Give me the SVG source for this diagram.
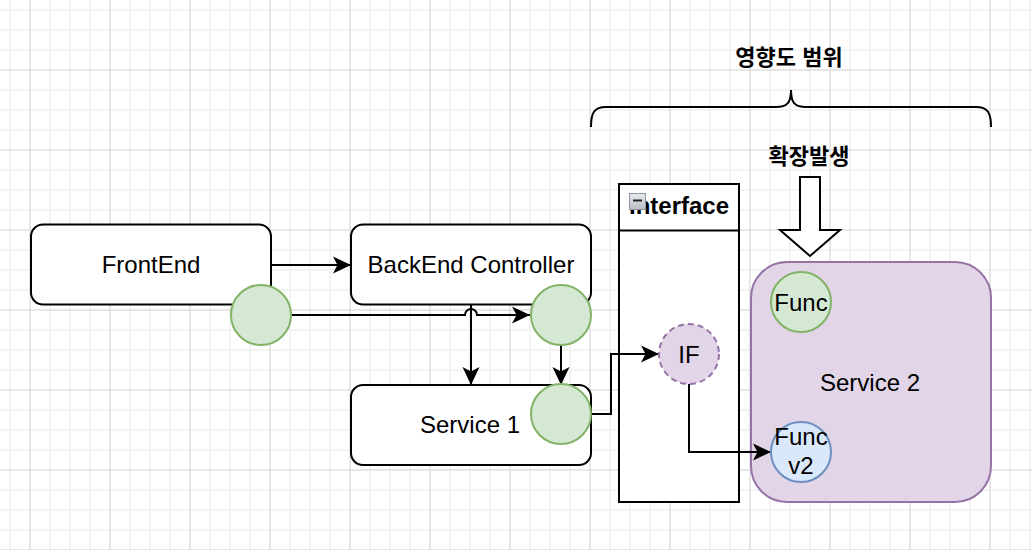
<svg xmlns="http://www.w3.org/2000/svg" width="1032" height="550" viewBox="0 0 1032 550">
  <defs>
    <pattern id="grid" x="0" y="0" width="80" height="80" patternUnits="userSpaceOnUse">
      <rect x="9" y="0" width="2" height="80" fill="#f3f3f3"/>
      <rect x="49" y="0" width="2" height="80" fill="#f3f3f3"/>
      <rect x="69" y="0" width="2" height="80" fill="#f3f3f3"/>
      <rect x="0" y="9" width="80" height="2" fill="#f3f3f3"/>
      <rect x="0" y="29" width="80" height="2" fill="#f3f3f3"/>
      <rect x="0" y="49" width="80" height="2" fill="#f3f3f3"/>
      <rect x="29.5" y="0" width="1" height="80" fill="#d0d0d0"/>
      <rect x="0" y="69.5" width="80" height="1" fill="#d0d0d0"/>
    </pattern>
    <marker id="arrow" markerUnits="userSpaceOnUse" markerWidth="20" markerHeight="20" viewBox="-19 -10 20 20" refX="0" refY="0" orient="auto">
      <path d="M0,0 L-18,-8.5 L-13.5,0 L-18,8.5 Z" fill="#000"/>
    </marker>
    <linearGradient id="iconGrad" x1="0" y1="0" x2="0" y2="1">
      <stop offset="0" stop-color="#e8eaee"/>
      <stop offset="1" stop-color="#b8bcc4"/>
    </linearGradient>
  </defs>
  <style>
    .box { fill: #ffffff; stroke: #000000; stroke-width: 2; }
    .green { fill: #d5e8d4; stroke: #82b366; stroke-width: 2; }
    .purple { fill: #e1d5e7; stroke: #9673a6; stroke-width: 2; }
    .blue { fill: #dae8fc; stroke: #6c8ebf; stroke-width: 2; }
    .lbl { font-family: "Liberation Sans", Arial, sans-serif; font-size: 24px; fill: #000; text-anchor: middle; }
    .bold { font-weight: bold; }
    .kr { font-family: "Liberation Sans", "Noto Sans CJK KR", sans-serif; font-size: 22px; font-weight: bold; fill: #000; text-anchor: middle; }
    .edge { fill: none; stroke: #000; stroke-width: 2; }
  </style>

  <rect x="0" y="0" width="1032" height="550" fill="#ffffff"/>
  <rect x="0" y="0" width="1032" height="550" fill="url(#grid)"/>

  <g id="impact-label">
    <text class="kr" x="789" y="65">영향도 범위</text>
  </g>
  <g id="brace">
    <path class="edge" d="M591,127 C591,113 594,107 606,107 H776 C787,107 791,103 791,90 C791,103 795,107 806,107 H976 C988,107 991,113 991,127"/>
  </g>
  <g id="expand-label">
    <text class="kr" x="809" y="164">확장발생</text>
  </g>
  <g id="block-arrow">
    <polygon points="800,177 820,177 820,230 840,230 810,256 780,230 800,230" fill="#ffffff" stroke="#000" stroke-width="2" stroke-linejoin="miter"/>
  </g>

  <g id="frontend">
    <rect class="box" x="31" y="224.5" width="240" height="80" rx="12"/>
    <text class="lbl" x="151" y="273">FrontEnd</text>
  </g>
  <g id="backend-controller">
    <rect class="box" x="351" y="224.5" width="240" height="80" rx="12"/>
    <text class="lbl" x="471" y="273">BackEnd Controller</text>
  </g>
  <g id="service1">
    <rect class="box" x="351" y="385" width="240" height="80" rx="12"/>
    <text class="lbl" x="470" y="433">Service 1</text>
  </g>

  <g id="interface">
    <rect x="619" y="184" width="120" height="318" fill="#ffffff" stroke="#000" stroke-width="2"/>
    <line x1="619" y1="230.5" x2="739" y2="230.5" stroke="#000" stroke-width="2"/>
    <text class="lbl bold" x="679" y="214">Interface</text>
    <rect x="629.5" y="193.5" width="16" height="16" fill="url(#iconGrad)" stroke="#8e949e" stroke-width="1"/>
    <line x1="633" y1="200.5" x2="642" y2="200.5" stroke="#222" stroke-width="2"/>
  </g>

  <g id="service2">
    <rect class="purple" x="751" y="262" width="240" height="240" rx="36"/>
    <text class="lbl" x="870" y="391">Service 2</text>
  </g>

  <g id="connectors">
    <path class="edge" d="M271,265 H351" marker-end="url(#arrow)"/>
    <path class="edge" d="M291,315 H465 A6,6 0 0 1 477,315 H530" marker-end="url(#arrow)"/>
    <path class="edge" d="M471,304.5 V385" marker-end="url(#arrow)"/>
    <path class="edge" d="M561,345 V385" marker-end="url(#arrow)"/>
    <path class="edge" d="M591,414 H611 V354 H659" marker-end="url(#arrow)"/>
    <path class="edge" d="M689,384 V452 H771" marker-end="url(#arrow)"/>
  </g>

  <g id="frontend-port">
    <circle class="green" cx="261" cy="315" r="30"/>
  </g>
  <g id="backend-port">
    <circle class="green" cx="561" cy="315" r="30"/>
  </g>
  <g id="service1-port">
    <circle class="green" cx="561" cy="414" r="30"/>
  </g>
  <g id="if">
    <circle class="purple" cx="689" cy="354" r="30" stroke-dasharray="6 4"/>
    <text class="lbl" x="689" y="363">IF</text>
  </g>
  <g id="func">
    <circle class="green" cx="801" cy="302" r="30"/>
    <text class="lbl" x="801" y="310.5">Func</text>
  </g>
  <g id="func-v2">
    <circle class="blue" cx="801" cy="452" r="30"/>
    <text class="lbl" x="801" y="445">Func</text>
    <text class="lbl" x="801" y="474">v2</text>
  </g>
</svg>
